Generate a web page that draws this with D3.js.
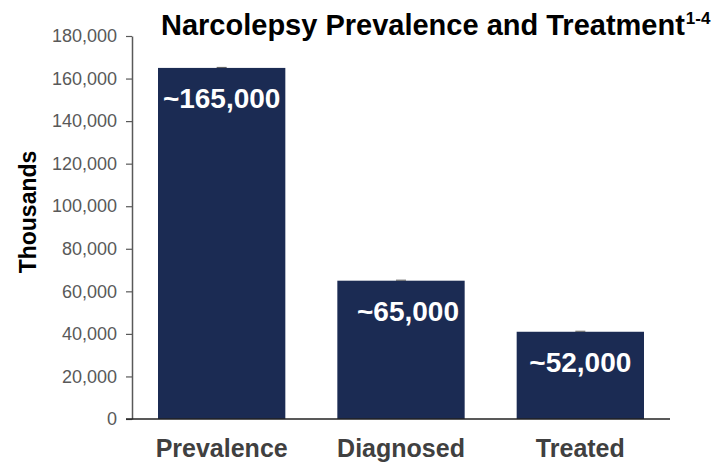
<!DOCTYPE html>
<html><head><meta charset="utf-8">
<script src="https://cdn.jsdelivr.net/npm/d3@7"></script>
<style>body{margin:0;background:#fff}svg{display:block}text{font-family:"Liberation Sans",Arial,sans-serif}</style>
</head><body>
<script>
const categories = ["Prevalence", "Diagnosed", "Treated"];
const values = [165000, 65000, 41000];
const barLabels = ["~165,000", "~65,000", "~52,000"];
const yTicks = [0, 20000, 40000, 60000, 80000, 100000, 120000, 140000, 160000, 180000];
const titleText = "Narcolepsy Prevalence and Treatment";
const titleSup = "1-4";
const yTitle = "Thousands";

const W = 726, H = 467;
const svg = d3.select("body").append("svg").attr("width", W).attr("height", H);
const x0 = 132, x1 = 670, yTop = 36, yBot = 419;
const x = d3.scaleBand().domain(categories).range([x0, x1]).paddingInner(0.29).paddingOuter(0.145);
const y = d3.scaleLinear().domain([0, 180000]).range([yBot, yTop]);

// bars
svg.selectAll("rect.bar").data(values).join("rect")
  .attr("x", (d, i) => x(categories[i])).attr("width", x.bandwidth())
  .attr("y", d => y(d)).attr("height", d => y(0) - y(d))
  .attr("fill", "#1b2b53");
// tiny caps
svg.selectAll("line.cap").data(values).join("line")
  .attr("x1", (d, i) => x(categories[i]) + x.bandwidth() / 2 - 5)
  .attr("x2", (d, i) => x(categories[i]) + x.bandwidth() / 2 + 5)
  .attr("y1", d => y(d) - 0.5).attr("y2", d => y(d) - 0.5)
  .attr("stroke", "#555").attr("stroke-width", 1);

// y axis
const yAxis = d3.axisLeft(y).tickValues(yTicks).tickSize(6).tickSizeOuter(0)
  .tickFormat(d3.format(","));
const gy = svg.append("g").attr("transform", `translate(${x0},0)`).call(yAxis);
gy.select(".domain").attr("stroke", "#595959").attr("stroke-width", 1.5);
gy.selectAll(".tick line").attr("stroke", "#595959").attr("stroke-width", 1.2);
gy.selectAll(".tick text").attr("font-size", 18).attr("fill", "#595959").attr("x", -15)
  .style("font-family", "Liberation Sans, Arial, sans-serif");

// x axis
const xAxis = d3.axisBottom(x).tickSize(0).tickSizeOuter(0);
const gx = svg.append("g").attr("transform", `translate(0,${yBot})`).call(xAxis);
gx.select(".domain").attr("d", `M${x0 - 6},0H${x1}`).attr("stroke", "#222").attr("stroke-width", 1.5);
gx.selectAll(".tick text").attr("font-size", 25).attr("font-weight", "bold").attr("fill", "#404040")
  .attr("y", 20).attr("dy", "0.71em").style("font-family", "Liberation Sans, Arial, sans-serif");

// labels in bars
svg.selectAll("text.vl").data(values).join("text")
  .attr("x", (d, i) => x(categories[i]) + x.bandwidth() / 2 + (i === 1 ? 7 : 0))
  .attr("y", d => y(d) + 40)
  .attr("text-anchor", "middle").attr("font-size", 28).attr("font-weight", "bold").attr("fill", "#fff")
  .text((d, i) => barLabels[i]);

// title
const t = svg.append("text").attr("x", 161).attr("y", 35).attr("font-size", 29).attr("font-weight", "bold").attr("fill", "#000");
t.append("tspan").text(titleText);
t.append("tspan").attr("font-size", 17).attr("dy", -11).attr("dx", 1).text(titleSup);

// y title
svg.append("text").attr("transform", `translate(36,212) rotate(-90)`).attr("text-anchor", "middle")
  .attr("font-size", 23).attr("font-weight", "bold").attr("fill", "#000").text(yTitle);
</script>
</body></html>
